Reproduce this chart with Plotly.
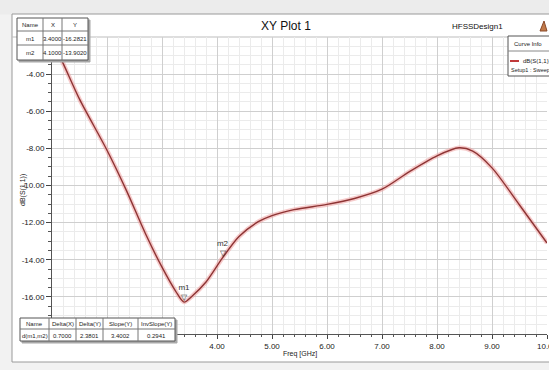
import plotly.graph_objects as go

# ---------------- data ----------------
freq = [1.00, 1.20, 1.50, 2.00, 2.35, 2.70, 3.00, 3.25, 3.40, 3.55, 3.80, 4.10,
        4.40, 4.75, 5.00, 5.40, 6.00, 6.50, 7.00, 7.50, 8.00, 8.40, 8.65, 9.00,
        9.50, 10.00]
s11_db = [-2.2, -3.41, -5.35, -8.1, -10.25, -12.6, -14.4, -15.7, -16.28, -15.95,
          -15.2, -13.90, -12.75, -11.95, -11.62, -11.30, -11.02, -10.70, -10.20,
          -9.25, -8.40, -7.97, -8.15, -9.05, -11.05, -13.1]

marker_names = ["m1", "m2"]
marker_x = [3.4, 4.1]
marker_y = [-16.2821, -13.9020]

# labels at 1-3 GHz, -2 and -18 dB sit under the marker tables in the reference
x_tick_vals = [1, 2, 3, 4, 5, 6, 7, 8, 9, 10]
x_tick_text = ["", "", "", "4.00", "5.00", "6.00", "7.00", "8.00", "9.00", "10.00"]
y_tick_vals = [-18, -16, -14, -12, -10, -8, -6, -4, -2]
y_tick_text = ["", "-16.00", "-14.00", "-12.00", "-10.00", "-8.00", "-6.00", "-4.00", ""]

marker_table = [["Name", "X", "Y"],
                ["m1", "3.4000", "-16.2821"],
                ["m2", "4.1000", "-13.9020"]]
delta_table = [["Name", "Delta(X)", "Delta(Y)", "Slope(Y)", "InvSlope(Y)"],
               ["d(m1,m2)", "0.7000", "2.3801", "3.4002", "0.2941"]]

title_text = "XY Plot 1"
design_text = "HFSSDesign1"
x_title = "Freq [GHz]"
y_title = "dB(S(1,1))"
legend_head = "Curve Info"
legend_name = "dB(S(1,1))"
legend_sub = "Setup1 : Sweep"

# ---------------- layout helpers ----------------
W, H = 549, 370
PL, PR, PT, PB = 52, 547, 37, 334
FONT = "Liberation Sans, Arial, sans-serif"


def px(x):
    return (x - PL) / (PR - PL)


def py(y):
    return (PB - y) / (PB - PT)


shapes = []
annots = []


def rect(x0, y0, x1, y1, fill=None, line="#555", lw=1, layer="above"):
    shapes.append(dict(type="rect", xref="paper", yref="paper",
                       x0=px(x0), x1=px(x1), y0=py(y1), y1=py(y0),
                       fillcolor=fill if fill else "rgba(0,0,0,0)",
                       line=dict(color=line, width=lw), layer=layer))


def hline(x0, x1, y, color="#555", lw=1, layer="above"):
    shapes.append(dict(type="line", xref="paper", yref="paper",
                       x0=px(x0), x1=px(x1), y0=py(y), y1=py(y),
                       line=dict(color=color, width=lw), layer=layer))


def vline(x, y0, y1, color="#555", lw=1, layer="above"):
    shapes.append(dict(type="line", xref="paper", yref="paper",
                       x0=px(x), x1=px(x), y0=py(y0), y1=py(y1),
                       line=dict(color=color, width=lw), layer=layer))


def text(x, y, s, size=8, anchor="center", color="#222", angle=0):
    annots.append(dict(xref="paper", yref="paper", x=px(x), y=py(y), text=s,
                       showarrow=False, xanchor=anchor, yanchor="middle",
                       textangle=angle, font=dict(family=FONT, size=size, color=color)))


def table(xs, ys, rows, size=6):
    rect(xs[0] + 2, ys[0] + 2, xs[-1] + 2, ys[-1] + 2, fill="#a8a8a8", line="#a8a8a8")
    rect(xs[0], ys[0], xs[-1], ys[-1], fill="white", line="#555")
    for x in xs[1:-1]:
        vline(x, ys[0], ys[-1], color="#777")
    for y in ys[1:-1]:
        hline(xs[0], xs[-1], y, color="#777")
    for r, row in enumerate(rows):
        for c, s in enumerate(row):
            text((xs[c] + xs[c + 1]) / 2, (ys[r] + ys[r + 1]) / 2 + 0.5, s, size=size)


# window frame / background
rect(-60, -60, 620, 14, fill="#ececec", line="#ececec", layer="below")
rect(12, 14, 560, 362, fill="white", line="#9a9a9a", layer="below")
hline(12, 560, 37, color="#bdbdbd", layer="below")

# title band
text(286, 26, title_text, size=12, color="#111")
text(505, 26, design_text, size=8, anchor="right", color="#111")
shapes.append(dict(type="path", xref="paper", yref="paper",
                   path="M {} {} L {} {} L {} {} Z".format(px(540), py(31), px(544), py(21), px(547), py(31)),
                   fillcolor="#c27a4a", line=dict(color="#8a4a2a", width=1), layer="above"))

# axis titles
text(300, 354, x_title, size=7)
text(23, 190, y_title, size=7, angle=-90)

# tables
table([17, 43, 62, 88], [18, 31, 45, 60], marker_table, size=6)
table([20, 49, 76, 103, 138, 175], [318, 329, 341], delta_table, size=6)

# curve info box
rect(508, 36, 556, 76, fill="white", line="#555")
hline(508, 556, 51, color="#888")
text(528, 44, legend_head, size=6)
hline(510, 519, 61, color="#c03a3a", lw=2)
text(521, 61, legend_name, size=6, anchor="left")
text(509, 70, legend_sub, size=5.5, anchor="left")

# ---------------- figure ----------------
fig = go.Figure()
fig.add_trace(go.Scatter(x=freq, y=s11_db, mode="lines", hoverinfo="skip",
                         line=dict(color="rgba(238,160,160,0.55)", width=4.5,
                                   shape="spline", smoothing=0.8),
                         showlegend=False))
fig.add_trace(go.Scatter(x=freq, y=s11_db, mode="lines", name=legend_name,
                         line=dict(color="#8e3434", width=1.4, shape="spline", smoothing=0.8),
                         showlegend=False))
fig.add_trace(go.Scatter(x=marker_x, y=marker_y, mode="text",
                         text=[n + "<br>▽" for n in marker_names],
                         textposition="top center",
                         textfont=dict(family=FONT, size=8, color="#333"),
                         showlegend=False))

axis_common = dict(showline=True, linecolor="#555", linewidth=1, mirror=False,
                   ticks="outside", tickcolor="#444", showgrid=True,
                   gridcolor="#cfcfcf", gridwidth=1, zeroline=False,
                   ticklabeloverflow="allow", automargin=False,
                   tickfont=dict(family=FONT, size=8, color="#222"))

fig.update_xaxes(range=[1, 10], tickmode="array", tickvals=x_tick_vals, ticktext=x_tick_text,
                 ticklen=4,
                 minor=dict(tickmode="linear", tick0=1, dtick=0.2, showgrid=True,
                            gridcolor="#ebebeb", ticks="outside", ticklen=2, tickcolor="#555"),
                 **axis_common)
fig.update_yaxes(range=[-18, -2], tickmode="array", tickvals=y_tick_vals, ticktext=y_tick_text,
                 ticklen=5,
                 minor=dict(tickmode="linear", tick0=-18, dtick=0.5, showgrid=True,
                            gridcolor="#ebebeb", ticks="outside", ticklen=3, tickcolor="#555"),
                 **axis_common)

fig.update_layout(width=W, height=H, margin=dict(l=PL, r=W - PR, t=PT, b=H - PB),
                  paper_bgcolor="#f2f2f2", plot_bgcolor="white",
                  shapes=shapes, annotations=annots, showlegend=False,
                  font=dict(family=FONT))

fig.write_html("out.html", config={"displayModeBar": False},
               post_script="document.body.style.margin='0';document.body.style.overflow='hidden';")
